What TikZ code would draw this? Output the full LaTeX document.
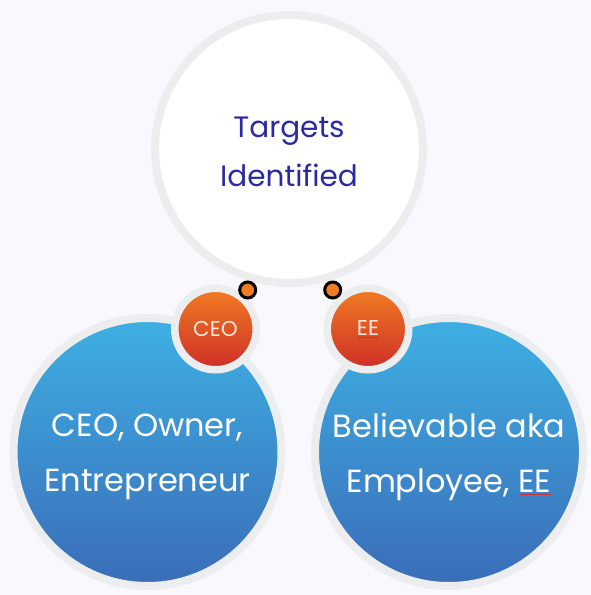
\documentclass[tikz,border=0pt]{standalone}
\usepackage{fontspec}
\setmainfont{Poppins}
\definecolor{pageback}{HTML}{F9F9FD}
\definecolor{ringgray}{HTML}{ECEDEF}
\definecolor{targetblue}{HTML}{2B2AA3}
\definecolor{blueTop}{HTML}{3EB0E3}
\definecolor{blueBot}{HTML}{3A6CB8}
\definecolor{orangeTop}{HTML}{F07C22}
\definecolor{orangeBot}{HTML}{CE2E28}
\definecolor{badgetext}{HTML}{FCE6DA}
\definecolor{squigred}{HTML}{C8303A}
\newcommand{\redmark}[2]{\textcolor{squigred}{\underline{\textcolor{#1}{#2}}}}

\begin{document}
\begin{tikzpicture}[x=1pt,y=-1pt,inner sep=0pt,outer sep=0pt,
		bigcirc/.style={circle,minimum size=268pt,draw=ringgray,line width=8pt},
		bluecirc/.style={bigcirc,top color=blueTop,bottom color=blueBot},
		bigtext/.style={align=center,text=white,font=\fontsize{32}{55}\selectfont},
		badge/.style={circle,minimum size=81.5pt,draw=ringgray,line width=7.5pt,
			top color=orangeTop,bottom color=orangeBot,text=badgetext,font=\fontsize{21.5}{24}\selectfont},
		dot/.style={circle,minimum size=16pt,draw=black,line width=3pt,fill=orangeTop}]
	\path[use as bounding box,fill=pageback] (0,0) rectangle (591,595);
	
	\node[bigcirc,fill=white] (targets) at (289,149) {};
	\node[align=center,text=targetblue,font=\fontsize{29.5}{49}\selectfont] (targetstext) at ([yshift=-2.5pt]targets.center) {Targets\\Identified};
	
	\node[bluecirc] (ceo) at (147.5,452) {};
	\node[bigtext] (ceotext) at ([yshift=-5pt]ceo.center) {CEO, Owner,\\Entrepreneur};
	\node[bluecirc] (ee) at (449,452) {};
	\node[bigtext] (eetext) at ([yshift=-5pt]ee.center) {Believable aka\\Employee, \redmark{white}{EE}};
	
	\node[badge] (ceobadge) at (215.5,329) {CEO};
	\node[badge] (eebadge) at (368,329) {\redmark{badgetext}{EE}};
	
	\node[dot] (ceodot) at (247.7,290) {};
	\node[dot] (eedot) at (332.7,290) {};
\end{tikzpicture}
\end{document}
